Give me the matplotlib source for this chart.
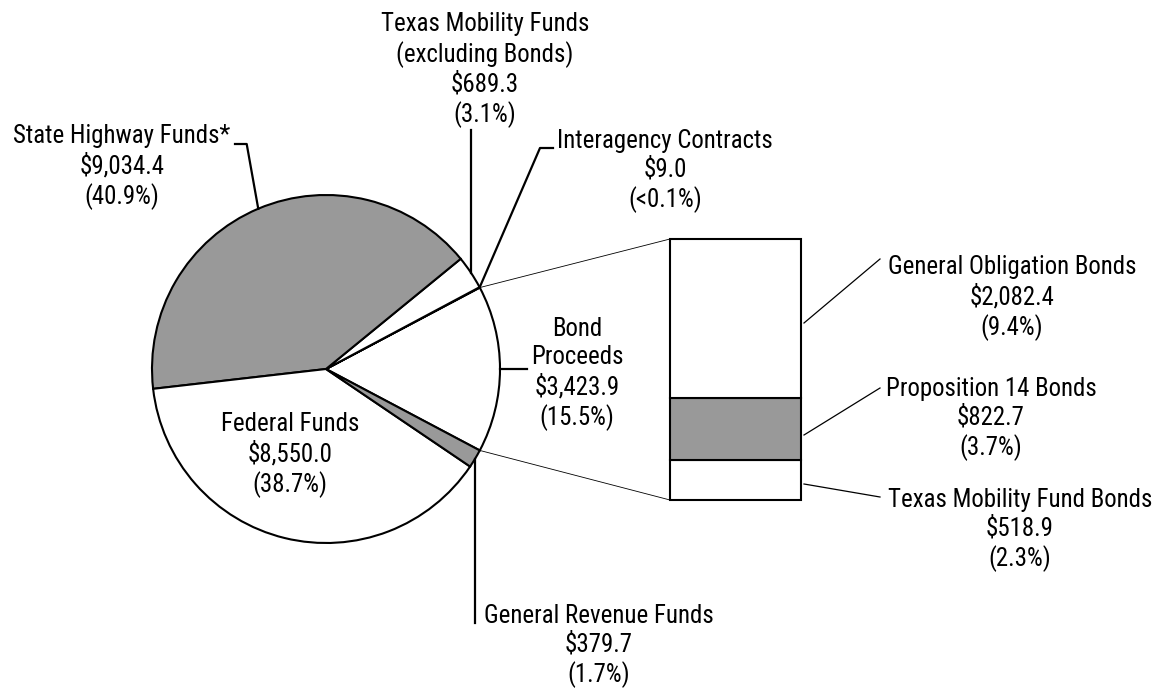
import matplotlib
matplotlib.use("Agg")
import matplotlib.pyplot as plt
from matplotlib import font_manager
import numpy as np

# datos del pie (millones de dolares)
pie_labels = ["Bond\nProceeds", "Interagency Contracts", "Texas Mobility Funds\n(excluding Bonds)",
              "State Highway Funds*", "Federal Funds", "General Revenue Funds"]
pie_values = [3423.9, 9.0, 689.3, 9034.4, 8550.0, 379.7]
pie_pct = ["15.5%", "<0.1%", "3.1%", "40.9%", "38.7%", "1.7%"]
pie_colors = ["white", "white", "white", "#999999", "white", "#999999"]

# desglose de bonos (de abajo hacia arriba)
bond_labels = ["Texas Mobility Fund Bonds", "Proposition 14 Bonds", "General Obligation Bonds"]
bond_values = [518.9, 822.7, 2082.4]
bond_pct = ["2.3%", "3.7%", "9.4%"]
bond_colors = ["white", "#999999", "white"]

W, H = 1155, 691

# buscar una fuente estrecha (tipo Arial Narrow) si hay alguna instalada
def es_regular(f):
    return f.style == "normal" and f.weight in (400, "normal", "regular")

def buscar_fuente():
    fuentes = [f for f in font_manager.fontManager.ttflist if es_regular(f)]
    for nombre in ["Liberation Sans Narrow", "Arial Narrow"]:
        for f in fuentes:
            if f.name == nombre:
                return f.fname
    estrecha = [f for f in fuentes
                if "Condensed" in f.name or "Narrow" in f.name or "Condensed" in f.fname
                or f.stretch in ("condensed", "semi-condensed", 87, 75)]
    for pref in ["Roboto", "Open Sans", "Noto Sans", "Lato", "Inter", "Liberation", "DejaVu"]:
        for f in estrecha:
            if f.name.startswith(pref) and "Mono" not in f.name and "Serif" not in f.name \
                    and "Extra" not in f.fname and "Semi" not in f.fname:
                return f.fname
    return font_manager.findfont("Liberation Sans")

fuente = font_manager.FontProperties(fname=buscar_fuente())

fig = plt.figure(figsize=(W / 100, H / 100), dpi=100)
ax = fig.add_axes([0, 0, 1, 1])

# ajustar el tamaño para que "General Obligation Bonds" mida ~248 px como en el original
renderer = fig.canvas.get_renderer()
fuente.set_size(17.5)
t = fig.text(0, 0, "General Obligation Bonds", fontproperties=fuente)
ancho = t.get_window_extent(renderer).width
t.remove()
fs = min(18.0, 17.5 * 248 / ancho)
fuente.set_size(fs)
ls = 1.38 * (31 / 32) * (17.5 / fs) * 0.93

def Y(y):
    # pasar coordenada de pixel (desde arriba) a coordenada de datos
    return H - y

cx, cy, r = 326, Y(369), 174
start = -pie_values[0] / sum(pie_values) * 180
wedges, _ = ax.pie(pie_values, colors=pie_colors, startangle=start, center=(cx, cy), radius=r,
                   wedgeprops=dict(edgecolor="black", linewidth=1.5), counterclock=True)

def punto(ang):
    a = np.deg2rad(ang)
    return cx + r * np.cos(a), cy + r * np.sin(a)

mid = [(w.theta1 + w.theta2) / 2 for w in wedges]

# barra de bonos
bx, bw = 735.5, 131
bar_h = Y(239) - Y(500)
k = bar_h / sum(bond_values)
base = Y(500)
for v, c in zip(bond_values, bond_colors):
    ax.bar(bx, v * k, width=bw, bottom=base, color=c, edgecolor="black", linewidth=1.5, zorder=3)
    base += v * k

# lineas de conexion pie -> barra
p1 = punto(wedges[0].theta2)
p2 = punto(wedges[0].theta1)
ax.plot([p1[0], bx - bw / 2], [p1[1], Y(239)], color="black", lw=0.6)
ax.plot([p2[0], bx - bw / 2], [p2[1], Y(500)], color="black", lw=0.6)

lw = 1.6

def etiqueta(i, x, y):
    s = f"{pie_labels[i]}\n${pie_values[i]:,.1f}\n({pie_pct[i]})"
    ax.text(x, Y(y), s, ha="center", va="center", fontproperties=fuente, linespacing=ls)

# Bond Proceeds
e = punto(mid[0])
ax.plot([e[0], 527], [e[1], e[1]], color="black", lw=lw)
etiqueta(0, 577, 374)

# Interagency
e = punto(mid[1])
ax.plot([e[0], 540, 553], [e[1], Y(148), Y(148)], color="black", lw=lw)
etiqueta(1, 665, 171)

# Texas Mobility Funds
e = punto(mid[2])
ax.plot([e[0], e[0]], [e[1], Y(130)], color="black", lw=lw)
etiqueta(2, 485, 70)

# State Highway
e = punto(mid[3])
ax.plot([e[0], 246.7, 235], [e[1], Y(144), Y(144)], color="black", lw=lw)
etiqueta(3, 122, 167)

# Federal Funds (dentro del pie)
etiqueta(4, 290, 455)

# General Revenue
e = punto(mid[5])
ax.plot([e[0], e[0]], [e[1], Y(623)], color="black", lw=lw)
etiqueta(5, 599, 646)

# etiquetas de bonos
bond_text_pos = [(1020, 530), (991, 419), (1012, 298)]
bond_line_start = [Y(484), Y(435), Y(323)]
bond_line_end = [Y(497), Y(388), Y(259)]
for i in range(3):
    ax.plot([804, 880], [bond_line_start[i], bond_line_end[i]], color="black", lw=0.9)
    s = f"{bond_labels[i]}\n${bond_values[i]:,.1f}\n({bond_pct[i]})"
    ax.text(bond_text_pos[i][0], Y(bond_text_pos[i][1]), s, ha="center", va="center",
            fontproperties=fuente, linespacing=ls)

ax.set_xlim(0, W)
ax.set_ylim(0, H)
ax.set_aspect("equal")
ax.axis("off")

fig.savefig("out.png", dpi=100)
